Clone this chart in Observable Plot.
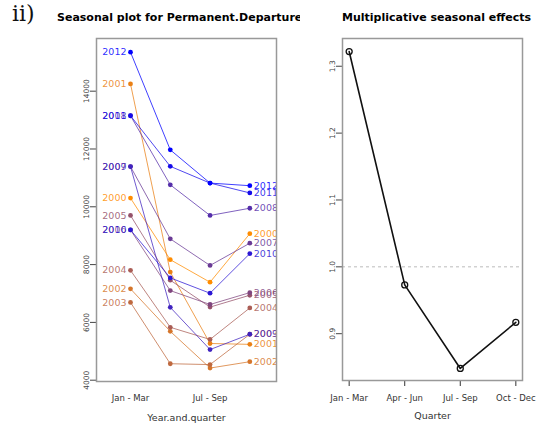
<!DOCTYPE html>
<html>
<head>
<meta charset="utf-8">
<script src="https://cdn.jsdelivr.net/npm/d3@7"></script>
<script src="https://cdn.jsdelivr.net/npm/@observablehq/plot@0.6"></script>
<style>
  body { margin: 0; background: #fff; }
  #chart { position: relative; width: 544px; height: 425px; overflow: hidden; background: #fff; font-family: "DejaVu Sans", sans-serif; }
  .panel { position: absolute; top: 0; }
  .title { position: absolute; top: 11.7px; font: bold 11px "DejaVu Sans", sans-serif; line-height: 11px; white-space: nowrap; color: #000; }
  #tag { position: absolute; left: 12px; top: 3px; font: 22px "DejaVu Serif", serif; line-height: 22px; color: #111; }
  #leftTitleBox { position: absolute; left: 0; top: 0; width: 300px; height: 30px; overflow: hidden; }
</style>
</head>
<body>
<div id="chart">
  <div id="leftPanel" class="panel" style="left:0"></div>
  <div id="rightPanel" class="panel" style="left:300px"></div>
  <div id="tag">ii)</div>
  <div id="leftTitleBox"><div class="title" style="left:57px">Seasonal plot for Permanent.Departures</div></div>
  <div class="title" style="left:342px;width:180px;text-align:center">Multiplicative seasonal effects</div>
</div>
<script>
// Quarter names used on both x axes
const quarters = ["Jan - Mar", "Apr - Jun", "Jul - Sep", "Oct - Dec"];

// Permanent departures by year and quarter
const years  = [2000, 2001, 2002, 2003, 2004, 2005, 2006, 2007, 2008, 2009, 2010, 2011, 2012];
const janMar = [10300, 14250, 7160, 6690, 7800, 9700, 9200, 11390, 13150, 11390, 9200, 13150, 15350];
const aprJun = [8170, 7740, 5690, 4570, 5830, 7460, 7100, 8890, 10760, 6520, 7540, 11400, 11970];
const julSep = [7390, 5270, 4420, 4540, 5410, 6530, 6620, 7970, 9700, 5060, 7010, 10820, 10820];
const octDec = [9070, 5240, 4640, 5590, 6500, 6940, 7030, 8740, 9950, 5590, 8380, 10480, 10730];

// One colour per year, running from orange to blue
const yearColors = ["#ff8c00", "#ea8015", "#d5752a", "#bf693f", "#aa5d55", "#95526a", "#80467f",
                    "#6a3a95", "#552eaa", "#4023bf", "#2b17d4", "#150bea", "#0000ff"];

// Multiplicative seasonal index per quarter
const seasonalIndex = [1.322, 0.973, 0.848, 0.917];

const rows = years.flatMap((year, i) =>
  [janMar[i], aprJun[i], julSep[i], octDec[i]].map((value, k) => ({year, q: k + 1, value})));
const firstQuarter = rows.filter(d => d.q === 1);
const lastQuarter = rows.filter(d => d.q === 4);
const effects = seasonalIndex.map((value, k) => ({q: k + 1, value}));

const font = "DejaVu Sans, sans-serif";

const left = Plot.plot({
  width: 300, height: 425,
  marginLeft: 96, marginRight: 24, marginTop: 38, marginBottom: 44,
  style: {fontFamily: font, background: "transparent"},
  x: {domain: [0.145, 4.671]},
  y: {domain: [3955, 15823]},
  color: {type: "ordinal", domain: years, range: yearColors},
  marks: [
    Plot.axisY({ticks: [4000, 6000, 8000, 10000, 12000, 14000], tickFormat: "d", tickSize: 6, tickPadding: 2,
                tickRotate: -90, fontSize: 7.5, color: "#444", label: null}),
    Plot.axisX({ticks: [1, 3], tickFormat: q => quarters[q - 1], tickSize: 0, tickPadding: 13,
                fontSize: 8.5, color: "#333", label: null}),
    Plot.line(rows, {x: "q", y: "value", z: "year", stroke: "year", strokeWidth: 1, strokeOpacity: 0.75}),
    Plot.dot(rows, {x: "q", y: "value", fill: "year", r: 2.4}),
    Plot.text(firstQuarter, {x: "q", y: "value", text: d => String(d.year), fill: "year", textAnchor: "end", dx: -4,
                             fontSize: 9.5, fillOpacity: 0.85, clip: true}),
    Plot.text(lastQuarter, {x: "q", y: "value", text: d => String(d.year), fill: "year", textAnchor: "start", dx: 4,
                            fontSize: 9.5, fillOpacity: 0.85, clip: true}),
    Plot.frame({stroke: "#999", strokeWidth: 1.5}),
    Plot.text(["Year.and.quarter"], {text: d => d, frameAnchor: "bottom", dy: 39, fontSize: 9.5, fill: "#333"})
  ]
});

const right = Plot.plot({
  width: 244, height: 425,
  marginLeft: 42, marginRight: 22, marginTop: 38, marginBottom: 45,
  style: {fontFamily: font, background: "transparent"},
  x: {domain: [0.88, 4.12]},
  y: {domain: [0.830, 1.3415]},
  marks: [
    Plot.ruleY([1], {stroke: "#bbb", strokeDasharray: "3,3"}),
    Plot.axisY({ticks: [0.9, 1.0, 1.1, 1.2, 1.3], tickFormat: ".1f", tickSize: 6, tickPadding: 2,
                tickRotate: -90, fontSize: 7.5, color: "#444", label: null}),
    Plot.axisX({ticks: [1, 2, 3, 4], tickFormat: q => quarters[q - 1], tickSize: 6, tickPadding: 8,
                fontSize: 8.5, color: "#333", label: null}),
    Plot.line(effects, {x: "q", y: "value", stroke: "#111", strokeWidth: 1.6}),
    Plot.dot(effects, {x: "q", y: "value", stroke: "#111", strokeWidth: 1.3, r: 3, fill: "none"}),
    Plot.frame({stroke: "#999", strokeWidth: 1.5}),
    Plot.text(["Quarter"], {text: d => d, frameAnchor: "bottom", dy: 38, fontSize: 9.5, fill: "#333"})
  ]
});

document.getElementById("leftPanel").appendChild(left);
document.getElementById("rightPanel").appendChild(right);
</script>
</body>
</html>
